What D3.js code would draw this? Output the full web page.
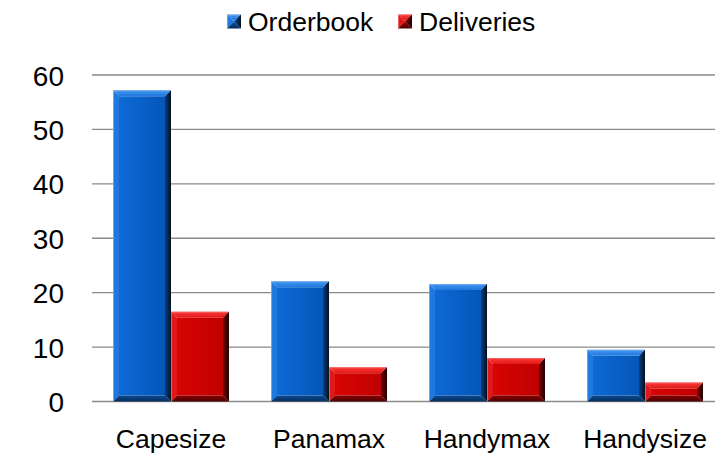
<!DOCTYPE html>
<html>
<head>
<meta charset="utf-8">
<script src="https://cdn.jsdelivr.net/npm/d3@7"></script>
<style>
  html, body { margin: 0; padding: 0; background: #ffffff; }
  svg { display: block; font-family: "Liberation Sans", Arial, sans-serif; }
</style>
</head>
<body>
<svg id="chart" width="715" height="456"></svg>
<script>
// Dry bulk fleet by vessel class
const categories = ["Capesize", "Panamax", "Handymax", "Handysize"];
const seriesNames = ["Orderbook", "Deliveries"];
const orderbook = [57.2, 22.1, 21.6, 9.5];
const deliveries = [16.5, 6.3, 8.0, 3.5];
const yTicks = [0, 10, 20, 30, 40, 50, 60];

const W = 715, H = 456;
const svg = d3.select("#chart");

// Shading palettes for the bevelled bars
const palettes = {
  Orderbook: { face0: "#0d6ad6", face1: "#0556b8", top: "#4596f2", left: "#1f78de", right0: "#0a3f80", right1: "#02101f", bottom0: "#0a4a96", bottom1: "#062c5a", edge: "#7fb0ea" },
  Deliveries: { face0: "#d80404", face1: "#c00000", top: "#ff3a3a", left: "#e01818", right0: "#7a0000", right1: "#200000", bottom0: "#8a0000", bottom1: "#4a0000", edge: "#f07070" }
};

const defs = svg.append("defs");
Object.entries(palettes).forEach(([k, p]) => {
  const id = k.toLowerCase();
  const g1 = defs.append("linearGradient").attr("id", id + "-face").attr("x1", 0).attr("x2", 1).attr("y1", 0).attr("y2", 0);
  g1.append("stop").attr("offset", "0%").attr("stop-color", p.face0);
  g1.append("stop").attr("offset", "100%").attr("stop-color", p.face1);
  const g2 = defs.append("linearGradient").attr("id", id + "-right").attr("x1", 0).attr("x2", 1).attr("y1", 0).attr("y2", 0);
  g2.append("stop").attr("offset", "0%").attr("stop-color", p.right0);
  g2.append("stop").attr("offset", "100%").attr("stop-color", p.right1);
  const g3 = defs.append("linearGradient").attr("id", id + "-bottom").attr("x1", 0).attr("x2", 0).attr("y1", 0).attr("y2", 1);
  g3.append("stop").attr("offset", "0%").attr("stop-color", p.bottom0);
  g3.append("stop").attr("offset", "100%").attr("stop-color", p.bottom1);
  const g4 = defs.append("linearGradient").attr("id", id + "-top").attr("x1", 0).attr("x2", 0).attr("y1", 0).attr("y2", 1);
  g4.append("stop").attr("offset", "0%").attr("stop-color", p.top);
  g4.append("stop").attr("offset", "100%").attr("stop-color", p.left);
});

// Scales
const y = d3.scaleLinear().domain([0, 60]).range([401.5, 75]);
const x0 = d3.scaleBand().domain(categories).range([92, 724]).paddingInner(0.266).paddingOuter(0.133);
const x1 = d3.scaleBand().domain(seriesNames).range([0, x0.bandwidth()]);

// Gridlines
svg.append("g").selectAll("line").data(yTicks).join("line")
  .attr("x1", 92).attr("x2", W)
  .attr("y1", d => y(d)).attr("y2", d => y(d))
  .attr("stroke", "#8a8a8a").attr("stroke-width", 1.4);

// Y axis labels
const yAxis = d3.axisLeft(y).tickValues(yTicks).tickSize(0).tickPadding(0).tickFormat(d3.format("d"));
const yg = svg.append("g").attr("transform", "translate(64,0)").call(yAxis);
yg.select(".domain").remove();
yg.selectAll("text").attr("font-size", 28).attr("fill", "#000")
  .attr("font-family", "'Liberation Sans', Arial, sans-serif").attr("dy", "0.36em");

// Bevelled bar drawing
function bevelBar(g, bx, by, bw, bh, key) {
  const p = palettes[key];
  const id = key.toLowerCase();
  const b = Math.min(6, bw / 2, bh / 2);
  const L = bx, R = bx + bw, T = by, B = by + bh;
  const pts = a => a.map(q => q.join(",")).join(" ");
  g.append("rect").attr("x", L + b).attr("y", T + b).attr("width", bw - 2 * b).attr("height", Math.max(0, bh - 2 * b))
    .attr("fill", `url(#${id}-face)`);
  g.append("polygon").attr("points", pts([[L, T], [R, T], [R - b, T + b], [L + b, T + b]])).attr("fill", `url(#${id}-top)`);
  g.append("polygon").attr("points", pts([[L, T], [L + b, T + b], [L + b, B - b], [L, B]])).attr("fill", p.left);
  g.append("polygon").attr("points", pts([[R, T], [R, B], [R - b, B - b], [R - b, T + b]])).attr("fill", `url(#${id}-right)`);
  g.append("polygon").attr("points", pts([[L, B], [L + b, B - b], [R - b, B - b], [R, B]])).attr("fill", `url(#${id}-bottom)`);
  g.append("path").attr("d", `M${L + 0.5},${B}V${T + 0.5}H${R - 1}`).attr("fill", "none")
    .attr("stroke", p.edge).attr("stroke-width", 1).attr("opacity", 0.8);
}

// Bars
const rows = categories.map((c, i) => ({ cat: c, vals: [{ key: "Orderbook", v: orderbook[i] }, { key: "Deliveries", v: deliveries[i] }] }));
const barLayer = svg.append("g");
rows.forEach(r => {
  r.vals.forEach(d => {
    const bx = x0(r.cat) + x1(d.key);
    const by = y(d.v);
    bevelBar(barLayer.append("g"), bx, by, x1.bandwidth(), y(0) - by, d.key);
  });
});

// X axis labels
const xAxis = d3.axisBottom(x0).tickSize(0).tickPadding(0);
const xg = svg.append("g").attr("transform", "translate(0,448)").call(xAxis);
xg.select(".domain").remove();
xg.selectAll("text").attr("font-size", 26.5).attr("fill", "#000").attr("dy", 0)
  .attr("font-family", "'Liberation Sans', Arial, sans-serif");

// Legend
const legendX = [227, 398];
const legend = svg.append("g");
seriesNames.forEach((s, i) => {
  const lg = legend.append("g");
  bevelBar(lg, legendX[i], 14.5, 14, 14, s);
  lg.append("text").attr("x", legendX[i] + 21).attr("y", 31)
    .attr("font-size", 26.5).attr("fill", "#000").text(s);
});
</script>
</body>
</html>
